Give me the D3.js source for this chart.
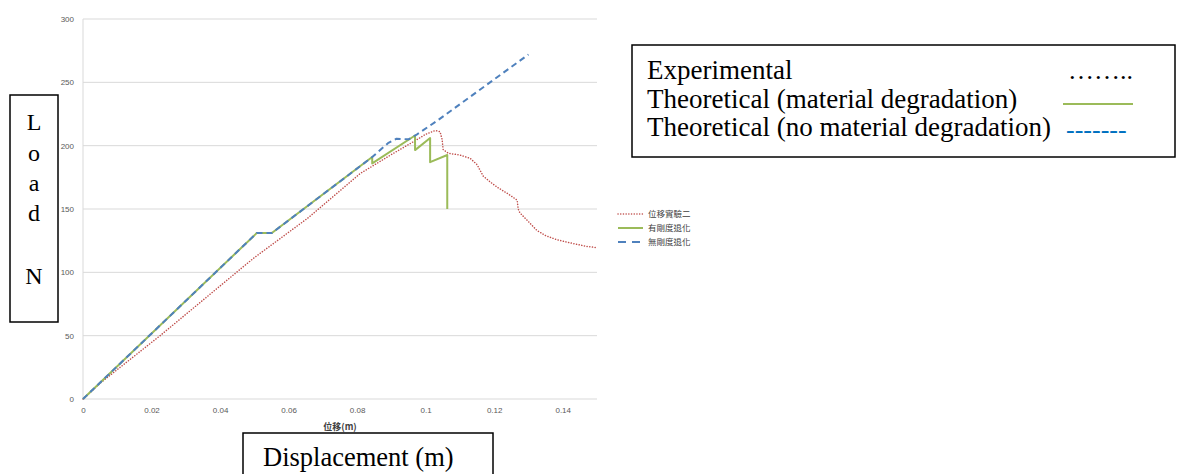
<!DOCTYPE html>
<html>
    <head>
        <meta charset="utf-8">
        <style>
            body { margin: 0; background: white; }
            .grid line { stroke: #d9d9d9; stroke-width: 1; }
            .tick_lbl { font-family: "Liberation Sans", Arial, sans-serif; font-size: 8px; fill: #595959; }
            .boite { fill: white; stroke: black; stroke-width: 1.5; }
            .serif { font-family: "Liberation Serif", "Times New Roman", serif; fill: black; }
            .cjk { font-family: "Noto Sans CJK TC", sans-serif; font-size: 8.5px; fill: #404040; }
        </style>
    </head>
    <body>
        <div id="plateau"></div>
        <script src="https://cdn.jsdelivr.net/npm/d3@7/dist/d3.min.js"></script>
        <script>

//////////////////// donnees ////////////////////
let xTicks = [0, 0.02, 0.04, 0.06, 0.08, 0.1, 0.12, 0.14];
let yTicks = [0, 50, 100, 150, 200, 250, 300];

// 位移實驗二 (experimental)
let expX = [0, 0.005, 0.0225, 0.0497, 0.0657, 0.0809, 0.09, 0.097, 0.1, 0.1028, 0.1042, 0.1048, 0.1051, 0.1066, 0.110, 0.113, 0.115, 0.1168, 0.119, 0.121, 0.124, 0.1267, 0.127, 0.1275, 0.13, 0.1325, 0.135, 0.138, 0.141, 0.1443, 0.147, 0.15];
let expY = [0, 12.5, 50, 111, 143, 178, 193, 204, 209, 212, 211, 205, 197, 194, 192.6, 190, 185, 176, 171, 167, 162, 157, 150, 147, 140, 133, 129, 126, 124, 122, 120.5, 119.5];

// 有剛度退化 (material degradation)
let degX = [0, 0.0507, 0.0551, 0.0844, 0.0844, 0.0969, 0.0969, 0.1013, 0.1013, 0.1063, 0.1063];
let degY = [0, 131, 131, 191, 186, 208, 196.5, 206, 187, 192.6, 150];

// 無剛度退化 (no material degradation)
let noDegX = [0, 0.0507, 0.0551, 0.0844, 0.089, 0.0915, 0.095, 0.0975, 0.103, 0.13];
let noDegY = [0, 131, 131, 191, 202, 205.5, 205, 209, 219, 272];

let legendLbl = ['位移實驗二', '有剛度退化', '無剛度退化'];
let boxLbl = ['Experimental', 'Theoretical (material degradation)', 'Theoretical (no material degradation)'];

//////////////////// page ////////////////////
let W = 1183, H = 474;
let svg = d3.select('#plateau').append('svg')
    .attr('width', W)
    .attr('height', H);

let x = d3.scaleLinear().domain([0, 0.15]).range([83, 597]);
let y = d3.scaleLinear().domain([0, 300]).range([399, 19]);

// grille
let grid = svg.append('g').classed('grid', true);
grid.selectAll('line.h')
    .data(yTicks)
    .enter().append('line')
    .attr('x1', x(0)).attr('x2', x(0.15))
    .attr('y1', d => y(d)).attr('y2', d => y(d));
grid.append('line')
    .attr('x1', x(0)).attr('x2', x(0))
    .attr('y1', y(0)).attr('y2', y(300));

// axes
let xAxis = svg.append('g')
    .attr('transform', `translate(0, ${y(0)})`)
    .call(d3.axisBottom(x).tickValues(xTicks).tickSize(0).tickPadding(8).tickFormat(d => d3.format('')(+d.toFixed(2))));
xAxis.select('.domain').remove();
xAxis.selectAll('text').classed('tick_lbl', true).attr('fill', null).attr('font-size', null).attr('font-family', null);

let yAxis = svg.append('g')
    .attr('transform', `translate(${x(0)}, 0)`)
    .call(d3.axisLeft(y).tickValues(yTicks).tickSize(0).tickPadding(9));
yAxis.select('.domain').remove();
yAxis.selectAll('text').classed('tick_lbl', true).attr('fill', null).attr('font-size', null).attr('font-family', null);

svg.append('text')
    .attr('x', 340).attr('y', 430)
    .attr('text-anchor', 'middle')
    .style('font-family', '"Noto Sans CJK TC", sans-serif')
    .style('font-size', '9px')
    .style('font-weight', 'bold')
    .attr('fill', '#404040')
    .text('位移(m)');

// courbes
let series = [
    { xs: expX, ys: expY, color: '#c0504d', width: 1.5, dash: '0.1 2.6', cap: 'round' },
    { xs: degX, ys: degY, color: '#9bbb59', width: 2, dash: null, cap: 'butt' },
    { xs: noDegX, ys: noDegY, color: '#4f81bd', width: 2, dash: '6 4', cap: 'butt' },
];
let line = d3.line().x(d => x(d[0])).y(d => y(d[1]));
series.forEach(s => {
    svg.append('path')
        .datum(d3.zip(s.xs, s.ys))
        .attr('d', line)
        .attr('fill', 'none')
        .attr('stroke', s.color)
        .attr('stroke-width', s.width)
        .attr('stroke-linecap', s.cap)
        .attr('stroke-linejoin', 'round')
        .attr('stroke-dasharray', s.dash);
});

// legende du graphe
let leg = svg.append('g').attr('transform', 'translate(618, 214)');
series.forEach((s, idx) => {
    leg.append('line')
        .attr('x1', 0).attr('x2', 25)
        .attr('y1', idx * 14).attr('y2', idx * 14)
        .attr('stroke', s.color)
        .attr('stroke-width', s.width)
        .attr('stroke-linecap', s.cap)
        .attr('stroke-dasharray', idx == 2 ? '8 6' : s.dash);
    leg.append('text')
        .classed('cjk', true)
        .attr('x', 30).attr('y', idx * 14 + 3)
        .text(legendLbl[idx]);
});

//////////////////// boites ////////////////////
// Load N
svg.append('rect').classed('boite', true)
    .attr('x', 10).attr('y', 95).attr('width', 48).attr('height', 227);
let loadLetters = [['L', 130], ['o', 161], ['a', 191], ['d', 221], ['N', 284]];
loadLetters.forEach(l => {
    svg.append('text').classed('serif', true)
        .attr('x', 34).attr('y', l[1])
        .attr('text-anchor', 'middle')
        .style('font-size', '24px')
        .text(l[0]);
});

// Displacement
svg.append('rect').classed('boite', true)
    .attr('x', 243).attr('y', 433).attr('width', 250).attr('height', 60);
svg.append('text').classed('serif', true)
    .attr('x', 263).attr('y', 466)
    .style('font-size', '26.5px')
    .text('Displacement (m)');

// legende en boite
svg.append('rect').classed('boite', true)
    .attr('x', 632).attr('y', 45).attr('width', 543).attr('height', 112);
boxLbl.forEach((t, idx) => {
    svg.append('text').classed('serif', true)
        .attr('x', 647).attr('y', 79 + idx * 28.5)
        .style('font-size', '27px')
        .text(t);
});
svg.append('text').classed('serif', true)
    .attr('x', 1068).attr('y', 79)
    .style('font-size', '26px')
    .text('……..');
svg.append('line')
    .attr('x1', 1063).attr('x2', 1133)
    .attr('y1', 104).attr('y2', 104)
    .attr('stroke', '#9bbb59').attr('stroke-width', 2);
svg.append('text').classed('serif', true)
    .attr('x', 1066).attr('y', 138)
    .style('font-size', '26px')
    .style('fill', '#0070c0')
    .text('-------');

        </script>
    </body>
</html>
